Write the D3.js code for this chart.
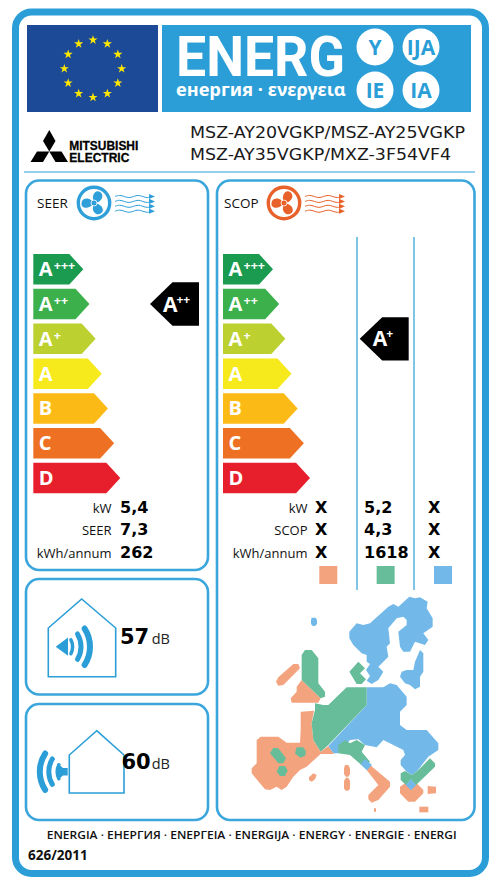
<!DOCTYPE html>
<html><head><meta charset="utf-8">
<script src="https://cdnjs.cloudflare.com/ajax/libs/d3/7.8.5/d3.min.js"></script>
<style>html,body{margin:0;padding:0;background:#fff}svg{display:block}</style>
</head><body><div id="c"></div>
<script>
// ---------- data ----------
const grades = ["A+++","A++","A+","A","B","C","D"];
const gradeColors = ["#1a9b50","#3bb04b","#bcd02f","#f6ea1c","#fcba17","#ee7123","#e71e2b"];
const seerRating = "A++";
const scopRating = "A+";
const rowLabelsSeer = ["kW","SEER","kWh/annum"];
const rowLabelsScop = ["kW","SCOP","kWh/annum"];
const seerValues = ["5,4","7,3","262"];
const scopCold = ["X","X","X"];
const scopAverage = ["5,2","4,3","1618"];
const scopWarm = ["X","X","X"];
const zoneNames = ["warm","average","cold"];
const zoneColors = ["#f3a47f","#67bc9a","#72b9ea"];
const models = ["MSZ-AY20VGKP/MSZ-AY25VGKP","MSZ-AY35VGKP/MXZ-3F54VF4"];
const badges = ["Y","IJA","IE","IA"];
const noiseIndoor = "57";
const noiseOutdoor = "60";
const footerText = "ENERGIA · ЕНЕРГИЯ · ΕΝΕΡΓΕΙΑ · ENERGIJA · ENERGY · ENERGIE · ENERGI";
const regulation = "626/2011";

// map regions, in map-space units
const mapWarm = [
 [[130,222],[145,222],[150,235],[100,285],[85,287],[78,275],[85,262]],
 [[155,270],[212,325],[205,338],[125,338],[122,325],[140,305],[140,290]],
 [[152,365],[192,362],[185,400],[190,450],[212,485],[235,468],[252,492],[212,492],[170,530],[150,540],[130,560],[110,590],[95,600],[80,590],[60,600],[45,598],[5,550],[5,535],[20,520],[20,450],[32,440],[85,440],[110,458],[150,458],[152,420]],
 [[360,525],[420,575],[420,590],[385,630],[365,638],[355,628],[355,615],[385,585],[350,540]],
 [[285,525],[295,525],[300,535],[300,552],[295,560],[287,560],[282,552],[282,535]],
 [[288,563],[295,563],[300,572],[300,595],[295,602],[287,602],[282,595],[282,572]],
 [[190,550],[200,555],[195,568],[185,575],[177,570],[177,562]],
 [[372,655],[378,655],[378,665],[372,665]],
 [[508,650],[535,650],[535,667],[508,667]],
 [[533,588],[558,590],[558,610],[533,612]],
 [[450,590],[465,580],[483,597],[500,580],[520,600],[520,610],[495,635],[475,635],[450,610]]
];
const mapAverage = [
 [[155,195],[165,180],[185,180],[205,205],[205,280],[225,305],[225,320],[212,325],[155,270]],
 [[298,245],[325,215],[345,235],[330,250],[348,268],[335,282],[320,282]],
 [[290,292],[350,292],[350,345],[235,465],[212,485],[190,450],[185,400],[195,360],[195,340],[220,345],[235,345]],
 [[265,465],[285,450],[300,460],[320,450],[345,465],[335,485],[360,515],[340,530],[300,495],[265,490]],
 [[540,505],[555,520],[555,530],[498,585],[483,568],[468,585],[452,570],[452,550],[465,543],[485,555],[500,545]],
 [[70,473],[85,475],[108,505],[100,520],[85,520],[60,490]],
 [[140,472],[160,472],[168,485],[165,498],[150,503],[135,490]],
 [[88,528],[105,528],[113,542],[105,558],[90,558],[80,545]]
];
const mapCold = [
 [[298,125],[320,100],[340,105],[360,100],[415,50],[430,42],[445,50],[478,20],[495,25],[510,22],[533,35],[530,55],[548,85],[548,110],[520,130],[535,150],[525,165],[495,155],[480,185],[460,185],[450,170],[445,125],[470,105],[470,90],[460,80],[440,85],[415,115],[420,160],[410,170],[415,200],[385,230],[400,245],[385,270],[365,282],[350,272],[360,258],[348,240],[360,222],[350,215],[350,195],[335,190],[310,165],[298,145]],
 [[495,215],[510,180],[520,190],[520,245],[510,260],[510,290],[495,298],[480,285],[465,280],[450,260],[455,245],[470,240],[490,240]],
 [[350,292],[400,292],[420,280],[440,285],[470,320],[470,345],[450,365],[450,405],[470,420],[530,420],[565,460],[565,480],[535,500],[500,545],[485,555],[470,545],[452,525],[452,510],[465,495],[460,480],[430,465],[400,450],[380,472],[345,465],[325,448],[300,450],[265,490],[250,490],[235,468],[350,345]],
 [[345,507],[365,525],[350,540],[332,522]],
 [[483,568],[498,585],[483,600],[468,585]],
 [[185,83],[197,83],[201,90],[201,102],[195,108],[188,108],[183,102],[183,90]]
];
const waveProfile = [0,-1.6,0,1.6,0,-1.6,0,1.6,0];

// ---------- drawing ----------
const W=503,H=887,BLUE="#2b9ed8",OS="'Open Sans'",DJ="'DejaVu Sans'";
const svg=d3.select("#c").append("svg").attr("width",W).attr("height",H);
const frame=(x0,y0,x1,y1,sw,r,c=BLUE)=>svg.append("rect").attr("x",x0).attr("y",y0).attr("width",x1-x0).attr("height",y1-y0).attr("rx",r).attr("fill","none").attr("stroke",c).attr("stroke-width",sw);
const label=(g,x,y,t,size,o={})=>g.append("text").attr("x",x).attr("y",y).attr("font-size",size).attr("font-weight",o.w||400).attr("fill",o.c||"#111").attr("text-anchor",o.a||"start").attr("font-family",o.f||DJ).attr("textLength",o.len||null).attr("lengthAdjust",o.len?"spacingAndGlyphs":null).attr("stroke",o.s?o.c:null).attr("stroke-width",o.s||null).text(t);

frame(15.5,12,485.5,873.5,7,16);

// header
svg.append("rect").attr("x",27).attr("y",25).attr("width",131).attr("height",87).attr("fill","#1c4a96");
svg.append("rect").attr("x",162).attr("y",25).attr("width",309).attr("height",87).attr("fill",BLUE);
const stars=d3.range(12);
const starA=d3.scaleLinear().domain([0,12]).range([0,2*Math.PI]);
svg.selectAll(".st").data(stars).join("path").attr("d",d3.symbol(d3.symbolStar,26))
 .attr("fill","#ffe800").attr("transform",d=>`translate(${93+28.7*Math.sin(starA(d))},${68.7-28.7*Math.cos(starA(d))})`);
label(svg,176,76,"ENERG",56,{c:"#fff",f:"Roboto",w:700,len:169});
label(svg,176,96,"енергия · ενεργεια",18.3,{c:"#fff",w:700,f:"'Noto Sans'"});
const bx=d3.scalePoint().domain([0,1]).range([375,421]);
const by=d3.scalePoint().domain([0,1]).range([47,90]);
badges.forEach((b,i)=>{
  const cx=bx(i%2),cy=by(i>>1);
  svg.append("circle").attr("cx",cx).attr("cy",cy).attr("r",18.5).attr("fill","#fff");
  label(svg,cx,cy+7.5,b,21,{c:BLUE,a:"middle",w:700,f:OS});
});

// logo
const rh=[[[49.3,130],[55.5,141],[49.3,151.5],[43,141]],[[49.3,151.5],[43,162],[30.5,162],[37,151.5]],[[49.3,151.5],[55.5,162],[68,162],[61.5,151.5]]];
svg.selectAll(".rh").data(rh).join("path").attr("d",d=>d3.line()(d)+"Z").attr("fill","#000");
label(svg,69.3,150,"MITSUBISHI",13.5,{c:"#000",w:700,f:"'Liberation Sans'",len:69,s:.3});
label(svg,69.3,161.5,"ELECTRIC",13.5,{c:"#000",w:700,f:"'Liberation Sans'",len:60,s:.3});
models.forEach((m,i)=>label(svg,190,138+i*22,m,16,{c:"#1a1a1a",len:i?261:275}));
svg.append("line").attr("x1",24).attr("x2",475).attr("y1",172).attr("y2",172).attr("stroke",BLUE).attr("stroke-width",1);

// panels
frame(26,180.5,208,570,2.6,13,"#3aa6dc");
frame(217,180.5,474.5,820,2.6,13,"#3aa6dc");
frame(26,579,208,694.5,2.6,13,"#3aa6dc");
frame(26,704,208,820,2.6,13,"#3aa6dc");

// scales for the energy scale
const yBand=d3.scaleBand().domain(grades).range([254,493.3]).paddingInner(0.1236).paddingOuter(0);
const tip=d3.scaleLinear().domain([0,6]).range([50,87]);
const rows=d3.scalePoint().domain([0,1,2]).range([512.7,557.7]);

function gradeScale(x0){
  const g=svg.append("g");
  grades.forEach((gr,i)=>{
    const y=yBand(gr),h=yBand.bandwidth(),L=tip(i);
    g.append("path").attr("d",d3.line()([[x0,y],[x0+L-14,y],[x0+L,y+h/2],[x0+L-14,y+h],[x0,y+h]])+"Z").attr("fill",gradeColors[i]);
    label(g,x0+5.5,y+h/2+7,gr[0],20,{c:"#fff",w:700,f:OS});
    const n=gr.length-1;
    if(n) label(g,x0+20.5,y+h/2+1,"+".repeat(n),12.5,{c:"#fff",w:700,f:OS});
  });
}
gradeScale(33.3);
gradeScale(223);

function ratingArrow(right,gr){
  const cy=yBand(gr)+yBand.bandwidth()/2, hh=21.7;
  const g=svg.append("g");
  g.append("path").attr("d",d3.line()([[right,cy-hh],[right,cy+hh],[right-26.5,cy+hh],[right-49,cy],[right-26.5,cy-hh]])+"Z").attr("fill","#000");
  label(g,right-36,cy+7.5,gr[0],21,{c:"#fff",w:700,f:OS});
  label(g,right-22.5,cy-0.5,"+".repeat(gr.length-1),12,{c:"#fff",w:700,f:OS});
}
ratingArrow(199,seerRating);
ratingArrow(408.7,scopRating);

// fans + waves
function fan(cx,cy,c){
  const g=svg.append("g").attr("transform",`translate(${cx},${cy})`);
  g.append("circle").attr("r",15.7).attr("fill","none").attr("stroke",c).attr("stroke-width",3.4);
  [0,120,240].forEach(a=>g.append("path").attr("d","M0,0C-4,-4 -5,-11 0,-12.5C6,-13 8,-6 3,-2Z").attr("fill",c).attr("transform",`rotate(${a+20})`));
  g.append("circle").attr("r",3).attr("fill",c).attr("stroke","#fff").attr("stroke-width",.8);
}
function waves(x0,c){
  const wx=d3.scaleLinear().domain([0,waveProfile.length-1]).range([x0,x0+37]);
  const ln=d3.line().curve(d3.curveBasis);
  d3.range(4).forEach(k=>{
    const y0=196.5+k*4.9;
    svg.append("path").attr("d",ln(waveProfile.map((v,i)=>[wx(i),y0+v]))).attr("fill","none").attr("stroke",c).attr("stroke-width",1);
    svg.append("path").attr("d",d3.line()([[x0+34,y0-2.6],[x0+40,y0],[x0+34,y0+2.6]])+"Z").attr("fill",c);
  });
}
label(svg,37,208,"SEER",13.5,{f:OS});
fan(94,203,"#2e9fd9"); waves(115,"#2e9fd9");
label(svg,224,208,"SCOP",13.5,{f:OS});
fan(284,203,"#e8602a"); waves(305,"#e8602a");

// vertical dividers
[357,414].forEach(x=>svg.append("line").attr("x1",x).attr("x2",x).attr("y1",237).attr("y2",590).attr("stroke","#3aa6dc").attr("stroke-width",1.3));

// tables
rowLabelsSeer.forEach((t,i)=>{
  label(svg,111.5,rows(i),t,13,{a:"end",f:OS});
  label(svg,120,rows(i),seerValues[i],16,{c:"#000",w:700});
});
rowLabelsScop.forEach((t,i)=>{
  label(svg,307.5,rows(i),t,13,{a:"end",f:OS});
  label(svg,315,rows(i),scopCold[i],16,{c:"#000",w:700});
  label(svg,364,rows(i),scopAverage[i],16,{c:"#000",w:700});
  label(svg,428,rows(i),scopWarm[i],16,{c:"#000",w:700});
});
const swX=d3.scalePoint().domain(zoneNames).range([319.3,434]);
zoneNames.forEach((z,i)=>svg.append("rect").attr("x",swX(z)).attr("y",566).attr("width",18).attr("height",18).attr("fill",zoneColors[i]));

// map
const mx=d3.scaleLinear().domain([0,630]).range([250,460]);
const my=d3.scaleLinear().domain([0,690]).range([590,820]);
const mapLine=d3.line().x(d=>mx(d[0])).y(d=>my(d[1]));
[[mapWarm,0],[mapCold,2],[mapAverage,1]].forEach(([regs,c])=>{
  svg.append("g").selectAll("path").data(regs).join("path").attr("d",d=>mapLine(d)+"Z").attr("fill",zoneColors[c]);
});
// blue spots sit above the green regions
svg.append("g").selectAll("path").data(mapCold.slice(3,5)).join("path").attr("d",d=>mapLine(d)+"Z").attr("fill",zoneColors[2]);

// noise
const hs=(ax,ay,lx,rx,sy,by)=>svg.append("path").attr("d",d3.line()([[ax,ay],[rx,sy],[rx,by],[lx,by],[lx,sy]])+"Z").attr("fill","none").attr("stroke",BLUE).attr("stroke-width",1.6);
hs(81.7,599,48.3,115.7,628,676.7);
hs(96.7,730.7,69.3,124,755,793);
function arcs(cx,cy,mid){
  [[16,3.5,32],[24.5,5,37],[33.5,6,38]].forEach(([r,w,a])=>{
    const rad=Math.PI/180;
    svg.append("path").attr("transform",`translate(${cx},${cy})`).attr("fill",BLUE)
     .attr("d",d3.arc().innerRadius(r-w/2).outerRadius(r+w/2).startAngle((mid-a)*rad).endAngle((mid+a)*rad).cornerRadius(w/2)());
  });
}
svg.append("path").attr("d",d3.line()([[55.7,646.7],[68,637.5],[68,655.8]])+"Z").attr("fill",BLUE);
arcs(56.5,646.7,90);
svg.append("path").attr("d",d3.line()([[57.7,763.5],[63,768],[67.7,768],[67.7,775.5],[63,775.5],[57.7,780]])+"Z").attr("fill",BLUE);
arcs(73.3,771.7,-90);
label(svg,120,644,noiseIndoor,21,{c:"#000",w:700});
label(svg,151.7,644,"dB",14.5,{c:"#222",f:OS});
label(svg,121.5,769,noiseOutdoor,21,{c:"#000",w:700});
label(svg,151.7,769,"dB",14.5,{c:"#222",f:OS});

// footer
label(svg,46.7,839.3,footerText,11.4,{c:"#111",w:600,f:OS,len:410});
label(svg,28,860,regulation,13.5,{c:"#111",w:700,f:"'Noto Sans'"});
</script></body></html>
